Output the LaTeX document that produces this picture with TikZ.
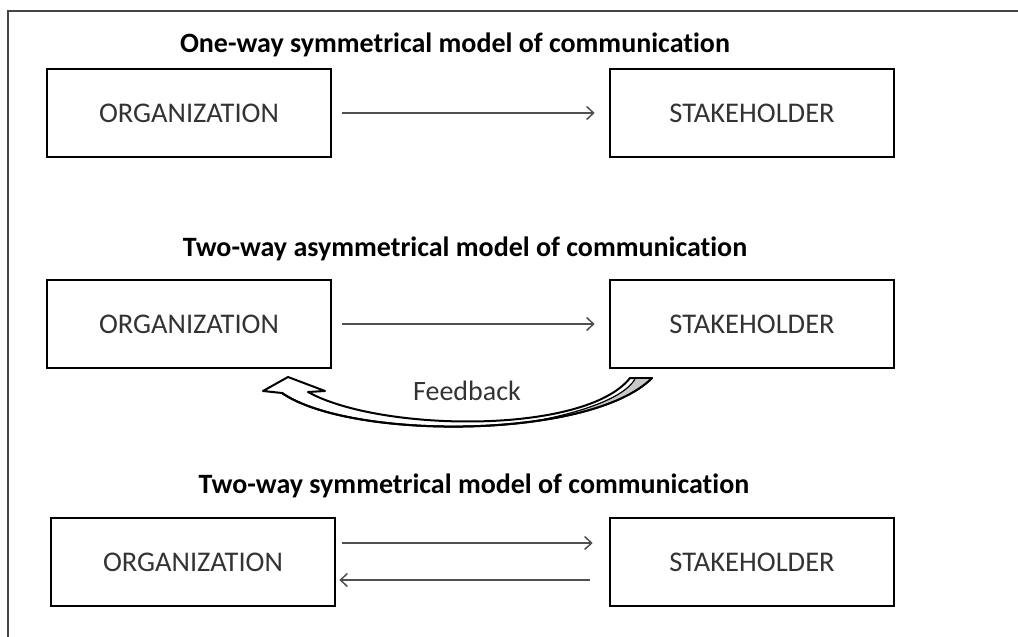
\documentclass[tikz,border=0pt]{standalone}
\usepackage{fontspec}
\setmainfont{Carlito}[RawFeature={-liga;-clig}]
\usetikzlibrary{arrows.meta}
\definecolor{framegray}{HTML}{444444}
\definecolor{arrgray}{HTML}{505050}
\definecolor{txtgray}{HTML}{333333}
\definecolor{fbgray}{HTML}{C8C8C8}
\tikzset{
  box/.style={draw=black, line width=2.6pt, minimum width=284pt, minimum height=88pt,
    inner sep=0pt, font=\fontsize{28.5}{31}\selectfont, text=txtgray},
  ttl/.style={font=\fontsize{28}{31}\selectfont\bfseries, text=black, inner sep=0pt},
  flow/.style={draw=arrgray, line width=1.5pt, -{Straight Barb[length=7pt,width=13pt,line width=1.5pt]}},
  fbarrow/.style={draw=black, line width=2pt, line join=round, fill=white},
}
\begin{document}
\begin{tikzpicture}[x=1pt,y=-1pt]
\useasboundingbox (0,0) rectangle (1018,637);
% frame (top and left edges)
\draw[framegray, line width=1.5pt] (1018,11) -- (8,11) -- (8,637);

% titles
\node[ttl] (t1) at (455,45) {One-way symmetrical model of communication};
\node[ttl] (t2) at (465,249) {Two-way asymmetrical model of communication};
\node[ttl] (t3) at (474,486) {Two-way symmetrical model of communication};

% row 1
\node[box] (o1) at (189,113) {ORGANIZATION};
\node[box] (s1) at (752,113) {STAKEHOLDER};
\draw[flow, shorten <=10pt, shorten >=14pt] (o1) -- (s1);

% row 2
\node[box] (o2) at (189,324) {ORGANIZATION};
\node[box] (s2) at (752,324) {STAKEHOLDER};
\draw[flow, shorten <=10pt, shorten >=14pt] (o2) -- (s2);

% feedback curved block arrow
\draw[fbarrow]
  (652,378) .. controls (590,440) and (350,440) .. (282,393)
  -- (263,391) -- (288,377) -- (325,391) -- (308,392)
  .. controls (380,432) and (585,435) .. (630,378) -- cycle;
\fill[fbgray] (652,378) .. controls (630.3,399.7) and (587,413.8) .. (536.5,420.9)
  .. controls (582,412) and (624,398) .. (635,379) -- cycle;
\draw[black, line width=1.2pt] (635,379) .. controls (624,398) and (582,412) .. (536.5,420.9);
\draw[black, line width=2pt, line join=round]
  (652,378) .. controls (590,440) and (350,440) .. (282,393);
\draw[black, line width=2pt, line cap=round] (630,378) -- (652,378);
\node[font=\fontsize{28}{31}\selectfont, text=txtgray, inner sep=0pt] (fb) at (467,391) {Feedback};

% row 3
\node[box] (o3) at (193,562) {ORGANIZATION};
\node[box] (s3) at (752,562) {STAKEHOLDER};
\draw[flow, shorten <=6pt, shorten >=16pt] ([yshift=19pt]o3.east) -- ([yshift=19pt]s3.west);
\draw[flow, shorten <=19pt, shorten >=3pt] ([yshift=-18pt]s3.west) -- ([yshift=-18pt]o3.east);
\end{tikzpicture}
\end{document}
